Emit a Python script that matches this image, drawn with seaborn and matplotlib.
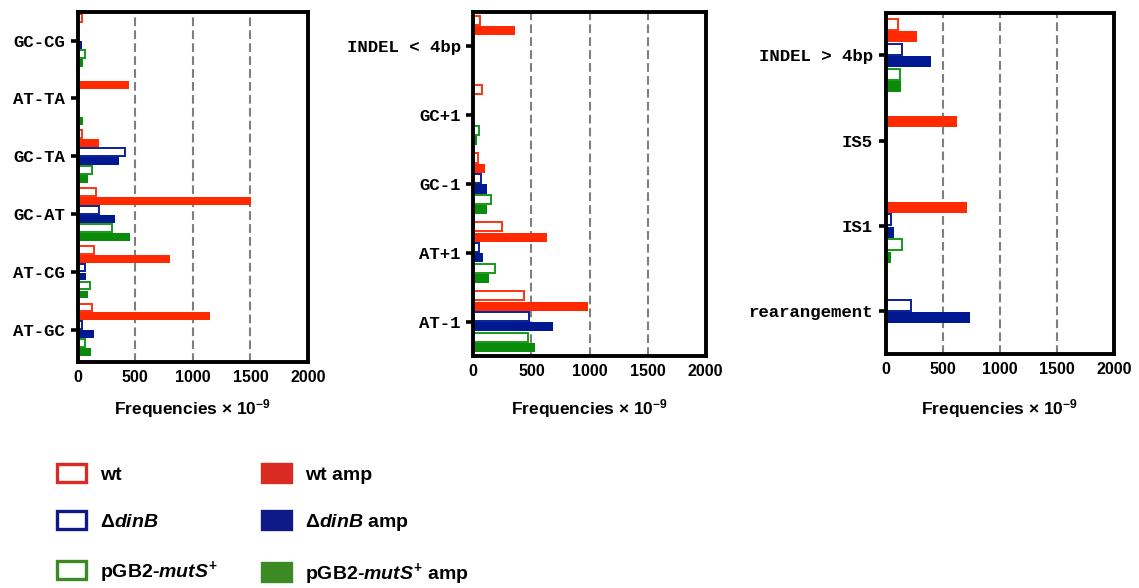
import numpy as np
import pandas as pd
import matplotlib
matplotlib.use("Agg")
import matplotlib.pyplot as plt
import seaborn as sns
from matplotlib.patches import Patch
from matplotlib.colors import to_hex

# ---------------- data ----------------
strains = ["wt", "wt amp", "dinB", "dinB amp", "mutS", "mutS amp"]

cats1 = ["GC-CG", "AT-TA", "GC-TA", "GC-AT", "AT-CG", "AT-GC"]
wt1 = [38, 15, 38, 160, 145, 130]
wt_amp1 = [0, 446, 185, 1505, 800, 1150]
dinB1 = [0, 15, 410, 185, 62, 43]
dinB_amp1 = [40, 0, 360, 324, 78, 147]
mutS1 = [66, 0, 124, 303, 107, 64]
mutS_amp1 = [52, 52, 92, 458, 92, 113]

cats2 = ["INDEL < 4bp", "GC+1", "GC-1", "AT+1", "AT-1"]
wt2 = [56, 72, 42, 246, 434]
wt_amp2 = [363, 0, 100, 630, 983]
dinB2 = [0, 0, 70, 46, 477]
dinB_amp2 = [0, 0, 116, 81, 682]
mutS2 = [0, 48, 150, 191, 471]
mutS_amp2 = [0, 28, 117, 139, 529]

cats3 = ["INDEL > 4bp", "IS5", "IS1", "rearangement"]
wt3 = [110, 0, 0, 0]
wt_amp3 = [270, 623, 710, 0]
dinB3 = [142, 0, 43, 226]
dinB_amp3 = [394, 0, 75, 742]
mutS3 = [122, 0, 145, 0]
mutS_amp3 = [136, 0, 46, 0]

xticks = [0, 500, 1000, 1500, 2000]
legend_labels = ["wt", "Δ$\\mathit{dinB}$", "pGB2-$\\mathit{mutS}^{\\mathbf{+}}$",
                 "wt amp", "Δ$\\mathit{dinB}$ amp", "pGB2-$\\mathit{mutS}^{\\mathbf{+}}$ amp"]

# ---------------- style ----------------
bar_colors = {"wt": "#ff3311", "wt amp": "#ff2a00",
              "dinB": "#0a1f96", "dinB amp": "#001890",
              "mutS": "#16991a", "mutS amp": "#0a8c0a"}
open_strains = ["wt", "dinB", "mutS"]
leg_colors = ["#d92b22", "#0d1a88", "#3b8a24"]

sns.set_theme(style="white")
plt.rcParams.update({
    "font.family": ["Liberation Sans", "DejaVu Sans"],
    "font.weight": "bold",
    "text.color": "black",
    "axes.labelcolor": "black",
    "xtick.color": "black",
    "ytick.color": "black",
    "mathtext.fontset": "custom",
    "mathtext.rm": "Liberation Sans:bold",
    "mathtext.bf": "Liberation Sans:bold",
    "mathtext.it": "Liberation Sans:italic:bold",
    "mathtext.default": "rm",
})

W, H = 1139, 588
fig = plt.figure(figsize=(W / 100, H / 100), dpi=100)


def rect(l, r, t, b):
    return [l / W, 1 - b / H, (r - l) / W, (b - t) / H]


panels = [
    (cats1, [wt1, wt_amp1, dinB1, dinB_amp1, mutS1, mutS_amp1], (77.5, 308, 11.7, 361.7), 0.93, (5.55, -0.5)),
    (cats2, [wt2, wt_amp2, dinB2, dinB_amp2, mutS2, mutS_amp2], (473.3, 705.7, 11.7, 356), 0.9, (4.5, -0.5)),
    (cats3, [wt3, wt_amp3, dinB3, dinB_amp3, mutS3, mutS_amp3], (885.7, 1114, 12.7, 354), 0.88, (3.5, -0.5)),
]

open_hex = {to_hex(bar_colors[s]): bar_colors[s] for s in open_strains}

for cats, series, box, w, ylim in panels:
    rows = []
    for s, vals in zip(strains, series):
        for c, v in zip(cats, vals):
            rows.append({"category": c, "strain": s, "value": v})
    df = pd.DataFrame(rows)
    ax = fig.add_axes(rect(*box))
    ax.set_axisbelow(True)
    sns.barplot(data=df, x="value", y="category", hue="strain", order=cats,
                hue_order=strains, palette=bar_colors, orient="h", width=w,
                gap=0.12, errorbar=None, legend=False, saturation=1, ax=ax)
    for p in ax.patches:
        fc = to_hex(p.get_facecolor())
        if fc in open_hex:
            p.set_facecolor("white")
            p.set_edgecolor(open_hex[fc])
            p.set_linewidth(1.4)
        else:
            p.set_edgecolor("none")
            p.set_linewidth(0)
    ax.set_xlim(0, 2000)
    ax.set_ylim(*ylim)
    ax.set_xticks(xticks)
    ax.set_xticklabels([str(t) for t in xticks])
    ax.xaxis.grid(True, color="#7f7f7f", linestyle=(0, (4.2, 2.0)), linewidth=1.5)
    ax.yaxis.grid(False)
    for sp in ax.spines.values():
        sp.set_visible(True)
        sp.set_color("black")
        sp.set_linewidth(2.8)
    ax.tick_params(axis="y", left=True, length=5, width=2.6, pad=4, color="black",
                   labelsize=12.5, labelcolor="black")
    ax.tick_params(axis="x", bottom=True, length=0, pad=6, labelsize=11.5,
                   labelcolor="black")
    for lbl in ax.get_yticklabels():
        lbl.set_family("Liberation Mono")
        lbl.set_weight("bold")
    for lbl in ax.get_xticklabels():
        lbl.set_weight("bold")
    ax.set_ylabel("")
    ax.set_xlabel("Frequencies × 10$^{\\mathbf{-9}}$", fontsize=12.5, fontweight="bold",
                  color="black")
    cx = (box[0] + box[1]) / 2 / W
    ax.xaxis.set_label_coords(cx, 1 - 409 / H, transform=fig.transFigure)
    ax.xaxis.label.set_va("center")

# ---------------- legend ----------------
handles_open = [Patch(facecolor="white", edgecolor=c, linewidth=2.4) for c in leg_colors]
handles_fill = [Patch(facecolor=c, edgecolor=c, linewidth=2.4) for c in leg_colors]
common = dict(frameon=False, borderpad=0, borderaxespad=0, handlelength=1.5,
              handleheight=1.05, handletextpad=0.7, labelspacing=1.42,
              prop={"size": 14, "weight": "bold", "family": "Liberation Sans"},
              labelcolor="black", loc="upper left")
fig.legend(handles_open, legend_labels[:3], bbox_to_anchor=(57 / W, 1 - 464 / H), **common)
fig.legend(handles_fill, legend_labels[3:], bbox_to_anchor=(262 / W, 1 - 464 / H), **common)

fig.savefig("out.png", dpi=100)
